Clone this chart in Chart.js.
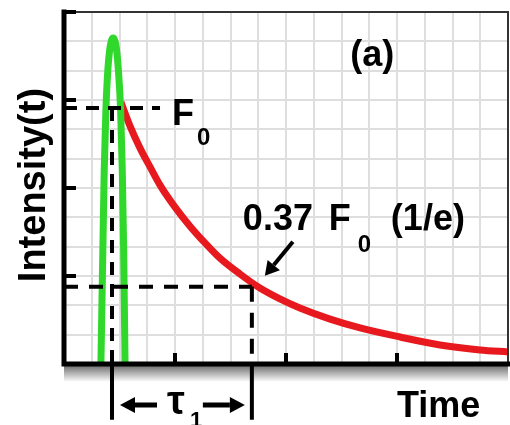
<!DOCTYPE html>
<html lang="en">
<head>
<meta charset="UTF-8">
<title>Fluorescence decay</title>
<script src="https://cdn.jsdelivr.net/npm/chart.js"></script>
<style>
  html, body { margin: 0; padding: 0; background: #fff; }
  #wrap { width: 510px; height: 425px; }
</style>
</head>
<body>
<div id="wrap"><canvas id="decayChart" width="510" height="425"></canvas></div>
<script>
// axes are in grid units of the picture: time 0..16, intensity 0..12
const redTime      = [2.05, 2.38, 2.74, 3.10, 3.46, 4.00, 4.54, 5.08, 5.62, 6.34, 7.06, 7.78, 8.50, 9.59, 10.67, 12.11, 13.55, 14.99, 16.0];
const redIntensity = [8.93, 8.11, 7.36, 6.72, 6.10, 5.35, 4.70, 4.13, 3.61, 3.07, 2.59, 2.22, 1.91, 1.53, 1.23, 0.92, 0.65, 0.48, 0.41];

const greenTime      = [1.33, 1.40, 1.45, 1.51, 1.58, 1.66, 1.77, 1.88, 1.96, 2.04, 2.10, 2.15, 2.20];
const greenIntensity = [0, 3.89, 6.61, 8.66, 10.02, 10.80, 11.11, 10.80, 10.02, 8.66, 6.61, 3.89, 0];

const f0Level = 8.73;      // F0
const eLevel = 2.63;       // 0.37 F0 (1/e)
const f0Time = 1.73;
const tauTime = 6.77;
const f0LineEnd = 3.46;
const belowAxis = -1.9;    // the marker lines run past the time axis

const yTickValues = [3, 6, 9, 12];
const xTickValues = [4, 8, 12];

const pts = (xs, ys) => xs.map((v, i) => ({ x: v, y: ys[i] }));
const FONT = "'Liberation Sans', Arial, sans-serif";

function text(ctx, str, x, y, size, align) {
    ctx.font = 'bold ' + size + 'px ' + FONT;
    ctx.textAlign = align || 'left';
    ctx.fillText(str, x, y);
}

function arrow(ctx, x1, y1, x2, y2, w, head, half) {
    const ang = Math.atan2(y2 - y1, x2 - x1);
    const bx = x2 - head * Math.cos(ang), by = y2 - head * Math.sin(ang);
    ctx.lineWidth = w;
    ctx.beginPath(); ctx.moveTo(x1, y1); ctx.lineTo(bx, by); ctx.stroke();
    ctx.beginPath();
    ctx.moveTo(x2, y2);
    ctx.lineTo(bx + half * Math.sin(ang), by - half * Math.cos(ang));
    ctx.lineTo(bx - half * Math.sin(ang), by + half * Math.cos(ang));
    ctx.closePath(); ctx.fill();
}

const decorations = {
    id: 'decorations',
    beforeDatasetsDraw(chart) {
        const { ctx, chartArea: a } = chart;
        ctx.save();
        const g = ctx.createLinearGradient(0, a.bottom + 2, 0, a.bottom + 18);
        g.addColorStop(0, 'rgba(0,0,0,0.55)');
        g.addColorStop(1, 'rgba(0,0,0,0)');
        ctx.fillStyle = g;
        ctx.fillRect(a.left, a.bottom + 2, a.right - a.left, 16);
        ctx.restore();
    },
    afterDatasetsDraw(chart) {
        const { ctx, chartArea: a, scales: { x, y } } = chart;
        ctx.save();
        // thin frame
        ctx.strokeStyle = '#333';
        ctx.lineWidth = 2;
        ctx.beginPath();
        ctx.moveTo(a.left, a.top); ctx.lineTo(a.right, a.top); ctx.lineTo(a.right, a.bottom);
        ctx.stroke();
        // heavy axes
        ctx.strokeStyle = '#000';
        ctx.fillStyle = '#000';
        ctx.lineWidth = 5;
        ctx.lineCap = 'square';
        ctx.beginPath();
        ctx.moveTo(a.left, a.top); ctx.lineTo(a.left, a.bottom); ctx.lineTo(a.right, a.bottom);
        ctx.stroke();
        // inward ticks
        ctx.lineCap = 'butt';
        ctx.lineWidth = 4;
        yTickValues.forEach(v => {
            const py = y.getPixelForValue(v);
            ctx.beginPath(); ctx.moveTo(a.left, py); ctx.lineTo(a.left + 12, py); ctx.stroke();
        });
        xTickValues.forEach(v => {
            const px = x.getPixelForValue(v);
            ctx.beginPath(); ctx.moveTo(px, a.bottom); ctx.lineTo(px, a.bottom - 11); ctx.stroke();
        });

        // labels
        ctx.textBaseline = 'alphabetic';
        const fx = x.getPixelForValue(f0LineEnd), fy = y.getPixelForValue(f0Level);
        text(ctx, 'F', fx + 12, fy + 17, 36);
        text(ctx, '0', fx + 37, fy + 37, 24);

        const ex = x.getPixelForValue(tauTime), ey = y.getPixelForValue(eLevel);
        text(ctx, '0.37', ex - 9, ey - 57, 36);
        text(ctx, 'F', ex + 77, ey - 57, 36);
        text(ctx, '0', ex + 106, ey - 35, 24);
        text(ctx, '(1/e)', ex + 139, ey - 57, 36);
        arrow(ctx, ex + 41, ey - 45, ex + 13, ey - 11, 4, 14, 8);

        text(ctx, '(a)', x.getPixelForValue(11.11), y.getPixelForValue(10.15), 36, 'center');
        text(ctx, 'Time', x.right - 111, a.bottom + 53, 36);

        ctx.save();
        ctx.translate(45, y.getPixelForValue(6.1));
        ctx.rotate(-Math.PI / 2);
        text(ctx, 'Intensity(t)', 0, 0, 38, 'center');
        ctx.restore();

        // lifetime span under the axis
        const x0 = x.getPixelForValue(f0Time), x1 = x.getPixelForValue(tauTime);
        const ay = a.bottom + 41;
        arrow(ctx, x0 + 45, ay, x0 + 8, ay, 5, 15, 8);
        arrow(ctx, x1 - 49, ay, x1 - 7, ay, 5, 15, 8);
        text(ctx, '\u03c4', x0 + 64, ay + 9, 40, 'center');
        text(ctx, '1', x0 + 78, ay + 22, 22);
        ctx.restore();
    }
};

const line = (data, color, width, extra) => Object.assign({
    data, showLine: true, pointRadius: 0, borderColor: color, borderWidth: width,
    borderCapStyle: 'butt', fill: false
}, extra);

new Chart(document.getElementById('decayChart'), {
    type: 'scatter',
    data: {
        datasets: [
            line([{ x: 0, y: f0Level }, { x: f0LineEnd, y: f0Level }], '#000', 4, { borderDash: [13, 9], order: 0 }),
            line([{ x: f0Time, y: f0Level }, { x: f0Time, y: 0 }], '#000', 4, { borderDash: [13, 9], order: 0 }),
            line([{ x: 0, y: eLevel }, { x: tauTime, y: eLevel }], '#000', 4, { borderDash: [14, 11], order: 0 }),
            line([{ x: tauTime, y: eLevel }, { x: tauTime, y: 0 }], '#000', 4, { borderDash: [15, 11], order: 0 }),
            line([{ x: f0Time, y: 0 }, { x: f0Time, y: belowAxis }], '#000', 4, { clip: false, order: 0 }),
            line([{ x: tauTime, y: 0 }, { x: tauTime, y: belowAxis }], '#000', 4, { clip: false, order: 0 }),
            line(pts(greenTime, greenIntensity), '#2fd82a', 7, { cubicInterpolationMode: 'monotone', order: 1 }),
            line(pts(redTime, redIntensity), '#e8191e', 7, { cubicInterpolationMode: 'monotone', order: 2 })
        ]
    },
    options: {
        responsive: false,
        animation: false,
        layout: { padding: { left: 64, top: 12, right: 2, bottom: 61 } },
        plugins: { legend: { display: false }, tooltip: { enabled: false } },
        scales: {
            x: {
                type: 'linear', min: 0, max: 16,
                ticks: { stepSize: 1, display: false },
                grid: { color: '#dedede', lineWidth: 2, drawTicks: false },
                border: { display: false }
            },
            y: {
                type: 'linear', min: 0, max: 12,
                ticks: { stepSize: 1, display: false },
                grid: { color: '#dedede', lineWidth: 2, drawTicks: false },
                border: { display: false }
            }
        }
    },
    plugins: [decorations]
});
</script>
</body>
</html>
